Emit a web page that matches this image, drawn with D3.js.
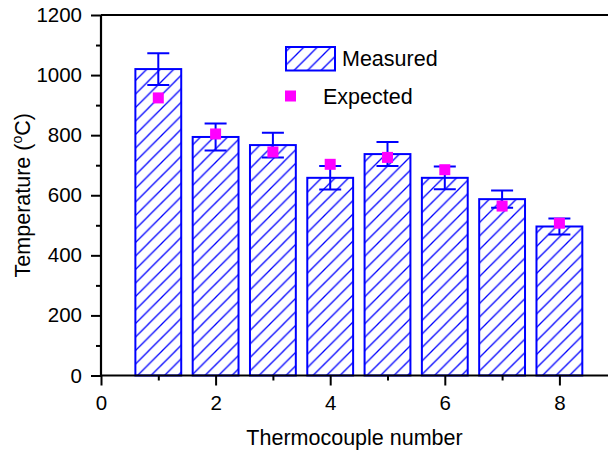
<!DOCTYPE html>
<html>
<head>
<meta charset="utf-8">
<script src="https://cdn.jsdelivr.net/npm/d3@7"></script>
<style>
  html, body { margin: 0; padding: 0; background: #fff; }
  svg { display: block; }
  text { font-family: "Liberation Sans", Arial, sans-serif; fill: #000; }
</style>
</head>
<body>
<svg id="chart" width="608" height="455"></svg>
<script>
// Thermocouple readings: measured mean, its error, and expected value (°C)
const thermocouples = [1, 2, 3, 4, 5, 6, 7, 8];
const measured = [1020, 794, 767, 658, 737, 658, 587, 496];
const measuredError = [53, 45, 41, 39, 40, 38, 29, 27];
const expected = [924, 804, 744, 703, 726, 685, 564, 507];
const xTicks = [0, 2, 4, 6, 8];
const yTicks = [0, 200, 400, 600, 800, 1000, 1200];

const blue = "#0000ff";
const magenta = "#ff00ff";

const svg = d3.select("#chart");
const plotLeft = 101, plotRight = 608, plotTop = 15, plotBottom = 375.5;

const unitPx = 57.3;
const x = d3.scaleLinear().domain([0, (plotRight - plotLeft) / unitPx]).range([plotLeft, plotRight]);
const y = d3.scaleLinear().domain([0, 1200]).range([plotBottom, plotTop]);
const barWidth = 0.8;

// Diagonal hatch fill
const hs = 13.5;
const pat = svg.append("defs").append("pattern")
  .attr("id", "hatch").attr("patternUnits", "userSpaceOnUse")
  .attr("width", hs).attr("height", hs);
pat.append("rect").attr("width", hs).attr("height", hs).attr("fill", "#fff");
pat.append("path")
  .attr("d", `M0,${hs} L${hs},0 M${-hs/2},${hs/2} L${hs/2},${-hs/2} M${hs/2},${hs*1.5} L${hs*1.5},${hs/2}`)
  .attr("stroke", blue).attr("stroke-width", 1.3);

// Bars
svg.append("g").selectAll("rect").data(thermocouples).join("rect")
  .attr("x", (d) => x(d - barWidth / 2))
  .attr("width", x(barWidth) - x(0))
  .attr("y", (d, i) => y(measured[i]))
  .attr("height", (d, i) => y(0) - y(measured[i]))
  .attr("fill", "url(#hatch)")
  .attr("stroke", blue).attr("stroke-width", 2);

// Error bars
const capHalf = 11;
const eb = svg.append("g").attr("stroke", blue).attr("stroke-width", 2).attr("fill", "none");
thermocouples.forEach((d, i) => {
  const cx = x(d), yHi = y(measured[i] + measuredError[i]), yLo = y(measured[i] - measuredError[i]);
  eb.append("path").attr("d",
    `M${cx},${yHi} L${cx},${yLo} M${cx - capHalf},${yHi} L${cx + capHalf},${yHi} M${cx - capHalf},${yLo} L${cx + capHalf},${yLo}`);
});

// Expected values
const sq = 11;
svg.append("g").selectAll("rect").data(thermocouples).join("rect")
  .attr("x", (d) => x(d) - sq / 2)
  .attr("y", (d, i) => y(expected[i]) - sq / 2)
  .attr("width", sq).attr("height", sq)
  .attr("fill", magenta);

// Axes
const yAxis = svg.append("g").attr("transform", `translate(${plotLeft},0)`)
  .call(d3.axisLeft(y).tickValues(yTicks).tickSize(10).tickPadding(9).tickFormat(d3.format("d")));
svg.append("g").attr("transform", `translate(${plotLeft},0)`)
  .call(d3.axisLeft(y).tickValues(d3.range(100, 1200, 200)).tickSize(5).tickFormat(""))
  .call((g) => g.select(".domain").remove());
const xAxis = svg.append("g").attr("transform", `translate(0,${plotBottom})`)
  .call(d3.axisBottom(x).tickValues(xTicks).tickSize(10).tickPadding(10).tickFormat(d3.format("d")));
svg.append("g").attr("transform", `translate(0,${plotBottom})`)
  .call(d3.axisBottom(x).tickValues([1, 3, 5, 7]).tickSize(5).tickFormat(""))
  .call((g) => g.select(".domain").remove());

svg.selectAll(".tick line").attr("stroke", "#000").attr("stroke-width", 2);
svg.selectAll(".domain").attr("stroke", "#000").attr("stroke-width", 2.2);
yAxis.select(".domain").attr("d", `M0,${plotBottom}V${plotTop}`);
xAxis.select(".domain").attr("d", `M${plotLeft},0H${plotRight}`);
svg.selectAll(".tick text").attr("font-size", 20.5).attr("font-family", "Liberation Sans, Arial, sans-serif").attr("fill", "#000");

// Top frame line
svg.append("line").attr("x1", plotLeft).attr("x2", plotRight).attr("y1", plotTop).attr("y2", plotTop)
  .attr("stroke", "#000").attr("stroke-width", 2.2);

// Axis titles
svg.append("text").attr("x", (plotLeft + plotRight) / 2).attr("y", 445)
  .attr("text-anchor", "middle").attr("font-size", 21.5).text("Thermocouple number");
const yTitle = svg.append("text")
  .attr("transform", `translate(30,${(plotTop + plotBottom) / 2}) rotate(-90)`)
  .attr("text-anchor", "middle").attr("font-size", 21.5);
yTitle.append("tspan").text("Temperature (");
yTitle.append("tspan").attr("font-size", 14).attr("dy", -8).text("o");
yTitle.append("tspan").attr("dy", 8).text("C)");

// Legend
svg.append("rect").attr("x", 286).attr("y", 47).attr("width", 49).attr("height", 23.5)
  .attr("fill", "url(#hatch)").attr("stroke", blue).attr("stroke-width", 2);
svg.append("text").attr("x", 342).attr("y", 58.5).attr("dy", "0.35em")
  .attr("font-size", 21.5).text("Measured");
svg.append("rect").attr("x", 285).attr("y", 90.5).attr("width", sq).attr("height", sq)
  .attr("fill", magenta);
svg.append("text").attr("x", 323).attr("y", 96).attr("dy", "0.35em")
  .attr("font-size", 21.5).text("Expected");
</script>
</body>
</html>
